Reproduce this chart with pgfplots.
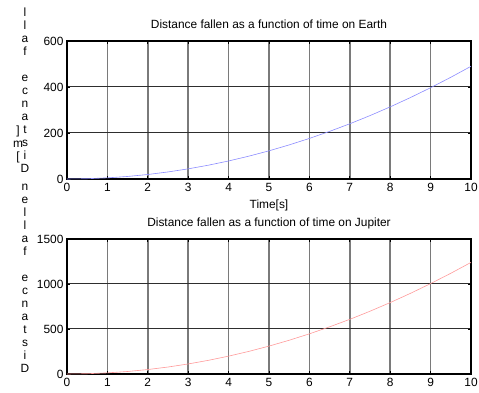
\documentclass[border=0pt]{standalone}
\usepackage{pgfplots}
\pgfplotsset{compat=1.18}
\usepackage{fontspec}
\setmainfont{Liberation Sans}
\definecolor{vgrid}{HTML}{7A7A7A}
\definecolor{hgrid}{HTML}{2E2E2E}
\definecolor{earth}{HTML}{8C8CFF}
\definecolor{jup}{HTML}{FF9A9A}
\pgfplotsset{
  every axis/.append style={
    scale only axis,
    width=404pt,
    xmin=0, xmax=10,
    xtick={0,1,...,10},
    tick align=inside,
    major tick length=3pt,
    tick style={black, line width=0.8pt},
    axis line style={black, line width=1.3pt},
    grid=major,
    x grid style={vgrid, line width=1.5pt},
    y grid style={hgrid, line width=1pt},
    tick label style={font=\fontsize{11.9}{13}\selectfont},
    xticklabel style={anchor=base, yshift=-12.5pt, inner sep=0pt},
    /pgf/number format/assume math mode=true,
    /pgf/number format/1000 sep={},
    scaled y ticks=false,
    clip=false,
  }
}
\newcommand{\lab}{\fontsize{11.9}{13}\selectfont}
\begin{document}
\begin{tikzpicture}[x=1pt,y=1pt]
\useasboundingbox (0,0) rectangle (479,393);
% top axis
\begin{axis}[
  at={(67pt,214pt)}, anchor=south west,
  height=138pt,
  ymin=0, ymax=600, ytick={0,200,400,600},
]
\addplot[earth, line width=0.6pt] coordinates {
(0,0) (0.5,1.225) (1,4.9) (1.5,11.025) (2,19.6) (2.5,30.625) (3,44.1) (3.5,60.025) (4,78.4) (4.5,99.225) (5,122.5) (5.5,148.225) (6,176.4) (6.5,207.025) (7,240.1) (7.5,275.625) (8,313.6) (8.5,354.025) (9,396.9) (9.5,442.225) (10,490)
};
\end{axis}
% bottom axis
\begin{axis}[
  at={(67pt,19pt)}, anchor=south west,
  height=135pt,
  ymin=0, ymax=1500, ytick={0,500,1000,1500},
]
\addplot[jup, line width=0.6pt] coordinates {
(0,0) (0.5,3.1) (1,12.4) (1.5,27.9) (2,49.6) (2.5,77.5) (3,111.6) (3.5,151.9) (4,198.4) (4.5,251.1) (5,310) (5.5,375.1) (6,446.4) (6.5,523.9) (7,607.6) (7.5,697.5) (8,793.6) (8.5,895.9) (9,1004.4) (9.5,1119.1) (10,1240)
};
\end{axis}
% titles and labels
\node[font=\lab, anchor=base] at (269,364.7) {Distance fallen as a function of time on Earth};
\node[font=\lab, anchor=base] at (269,184.5) {Time[s]};
\node[font=\lab, anchor=base] at (269,166.5) {Distance fallen as a function of time on Jupiter};
% stacked y labels (anchor=base = baseline of the last line)
\node[font=\lab, align=center, inner sep=0pt, anchor=base] at (25,220) {l\\l\\a\\f\\~\\e\\c\\n\\a\\t\\s\\i\\D};
\node[font=\lab, align=center, inner sep=0pt, anchor=base] at (18,232) {]\\m\\{[}};
\node[font=\lab, align=center, inner sep=0pt, anchor=base] at (25,20) {n\\e\\l\\l\\a\\f\\~\\e\\c\\n\\a\\t\\s\\i\\D};
\end{tikzpicture}
\end{document}
